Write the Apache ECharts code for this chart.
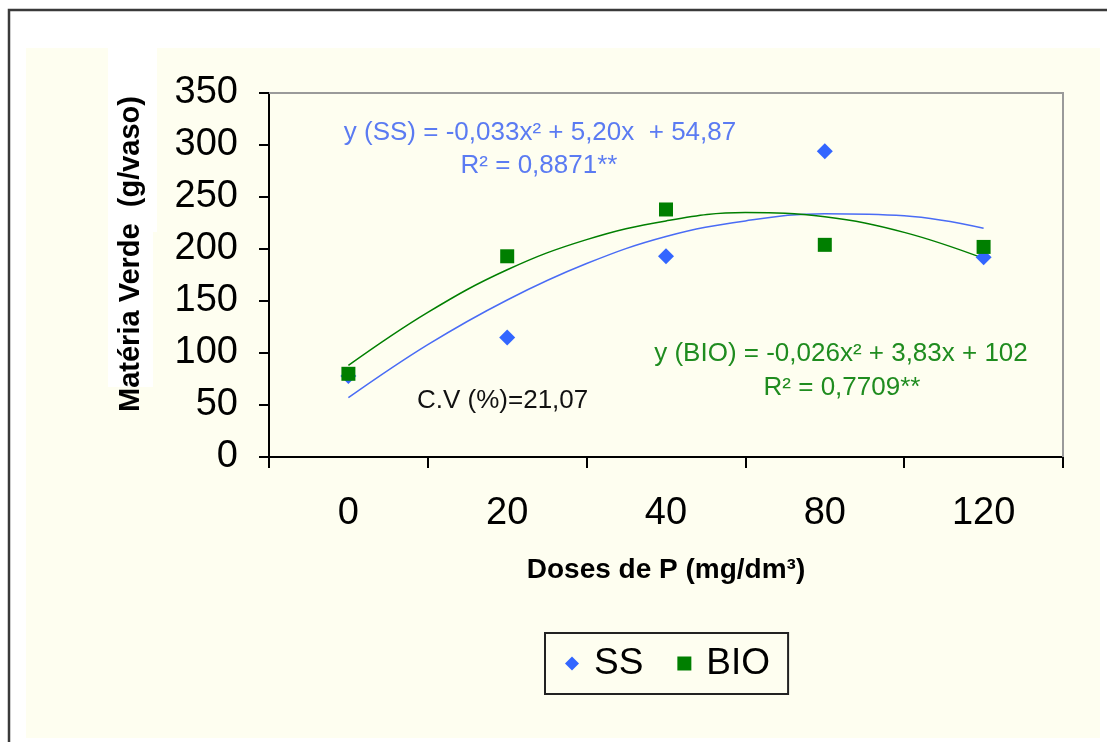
<!DOCTYPE html>
<html>
<head>
<meta charset="utf-8">
<script src="https://cdn.jsdelivr.net/npm/echarts@6/dist/echarts.min.js"></script>
<style>
html,body{margin:0;padding:0;background:#ffffff;}
#chart{width:1107px;height:742px;}
</style>
</head>
<body>
<div id="chart"></div>
<script>
// ---- data ----
const categories = ['0', '20', '40', '80', '120'];
const ssValues = [78, 115, 193, 294, 192];
const bioValues = [80, 193, 238, 204, 202];
// trend curves, at each dose and halfway between doses
const trendPositions = [0, 0.5, 1, 1.5, 2, 2.5, 3, 3.5, 4];
const ssTrend = [57, 108, 151, 186, 212, 227, 234, 232, 220];
const bioTrend = [88, 139, 180, 209, 227, 235, 231, 216, 191];
const yTicks = { min: 0, max: 350, interval: 50 };

const ssEquation = 'y (SS) = -0,033x\u00b2 + 5,20x  + 54,87';
const ssR2 = 'R\u00b2 = 0,8871**';
const bioEquation = 'y (BIO) = -0,026x\u00b2 + 3,83x + 102';
const bioR2 = 'R\u00b2 = 0,7709**';
const cvText = 'C.V (%)=21,07';
const xName = 'Doses de P (mg/dm\u00b3)';
const yName = 'Mat\u00e9ria Verde  (g/vaso)';

const FONT = "'Liberation Sans', Arial, sans-serif";
const CREAM = '#FEFEF0';
const BLUE = '#3366FF';
const BLUE_TXT = '#5B7BF2';
const GREEN = '#007F00';
const GREEN_TXT = '#1F8C1F';

const pairs = (xs, ys) => xs.map((x, i) => [x, ys[i]]);

const chart = echarts.init(document.getElementById('chart'), null, { renderer: 'canvas' });

chart.setOption({
  animation: false,
  backgroundColor: '#ffffff',
  graphic: [
    { type: 'rect', z: -10, shape: { x: 9, y: 10, width: 1120, height: 760 },
      style: { fill: '#ffffff', stroke: '#3a3a3a', lineWidth: 2.5 } },
    { type: 'rect', z: -9, shape: { x: 26, y: 48, width: 1074, height: 690 },
      style: { fill: CREAM } },
    { type: 'rect', z: -8, shape: { x: 108, y: 48, width: 49, height: 184 },
      style: { fill: '#ffffff' } },
    { type: 'rect', z: -8, shape: { x: 108, y: 232, width: 45, height: 155 },
      style: { fill: '#ffffff' } },
    { type: 'polyline', z: 1, shape: { points: [[269, 93], [1063, 93], [1063, 457]] },
      style: { stroke: '#9a9a9a', lineWidth: 2, fill: null } },
    { type: 'text', z: 5, x: 131, y: 254, rotation: Math.PI / 2,
      style: { text: yName, font: 'bold 29px ' + FONT, fill: '#000',
               textAlign: 'center', textVerticalAlign: 'middle' } },
    { type: 'text', z: 5, x: 540, y: 133,
      style: { text: ssEquation, font: '26px ' + FONT, fill: BLUE_TXT,
               textAlign: 'center', textVerticalAlign: 'middle' } },
    { type: 'text', z: 5, x: 539, y: 166,
      style: { text: ssR2, font: '26px ' + FONT, fill: BLUE_TXT,
               textAlign: 'center', textVerticalAlign: 'middle' } },
    { type: 'text', z: 5, x: 841, y: 354,
      style: { text: bioEquation, font: '26px ' + FONT, fill: GREEN_TXT,
               textAlign: 'center', textVerticalAlign: 'middle' } },
    { type: 'text', z: 5, x: 842, y: 388,
      style: { text: bioR2, font: '26px ' + FONT, fill: GREEN_TXT,
               textAlign: 'center', textVerticalAlign: 'middle' } },
    { type: 'text', z: 5, x: 417, y: 401,
      style: { text: cvText, font: '26px ' + FONT, fill: '#111',
               textAlign: 'left', textVerticalAlign: 'middle' } }
  ],
  grid: { left: 269, top: 93, right: 44, bottom: 285, containLabel: false },
  legend: {
    data: [
      { name: 'SS', icon: 'diamond' },
      { name: 'BIO', icon: 'rect' }
    ],
    left: 545, top: 633,
    padding: [12, 18, 12, 20],
    itemGap: 34,
    itemWidth: 14, itemHeight: 14,
    borderColor: '#222', borderWidth: 2,
    backgroundColor: CREAM,
    textStyle: { fontSize: 37, fontFamily: FONT, color: '#000', padding: [0, 0, 0, 10] }
  },
  xAxis: [{
    type: 'category',
    data: categories,
    boundaryGap: true,
    name: xName,
    nameLocation: 'middle',
    nameGap: 99,
    nameTextStyle: { fontSize: 28, fontWeight: 'bold', fontFamily: FONT, color: '#000' },
    axisLine: { onZero: false, lineStyle: { color: '#000', width: 2 } },
    axisTick: { show: true, alignWithLabel: false, length: 11, lineStyle: { color: '#000', width: 2 } },
    axisLabel: { fontSize: 38, fontFamily: FONT, color: '#000', margin: 38 },
    splitLine: { show: false }
  }, {
    type: 'value',
    min: -0.5, max: 4.5,
    show: false
  }],
  yAxis: {
    type: 'value',
    min: yTicks.min, max: yTicks.max, interval: yTicks.interval,
    axisLine: { show: true, onZero: false, lineStyle: { color: '#000', width: 2 } },
    axisTick: { show: true, length: 10, lineStyle: { color: '#000', width: 2 } },
    axisLabel: { fontSize: 38, fontFamily: FONT, color: '#000', margin: 31 },
    splitLine: { show: false }
  },
  series: [
    { name: 'SS trend', type: 'line', xAxisIndex: 1, data: pairs(trendPositions, ssTrend),
      smooth: 0.4, symbol: 'none',
      lineStyle: { color: '#4A6CF5', width: 1.5 }, z: 3, silent: true },
    { name: 'BIO trend', type: 'line', xAxisIndex: 1, data: pairs(trendPositions, bioTrend),
      smooth: 0.4, symbol: 'none',
      lineStyle: { color: GREEN, width: 1.5 }, z: 3, silent: true },
    { name: 'SS', type: 'scatter', data: ssValues, symbol: 'diamond', symbolSize: 16,
      itemStyle: { color: BLUE, opacity: 1 }, z: 4 },
    { name: 'BIO', type: 'scatter', data: bioValues, symbol: 'rect', symbolSize: 14,
      itemStyle: { color: GREEN, opacity: 1 }, z: 5 }
  ]
});
</script>
</body>
</html>
